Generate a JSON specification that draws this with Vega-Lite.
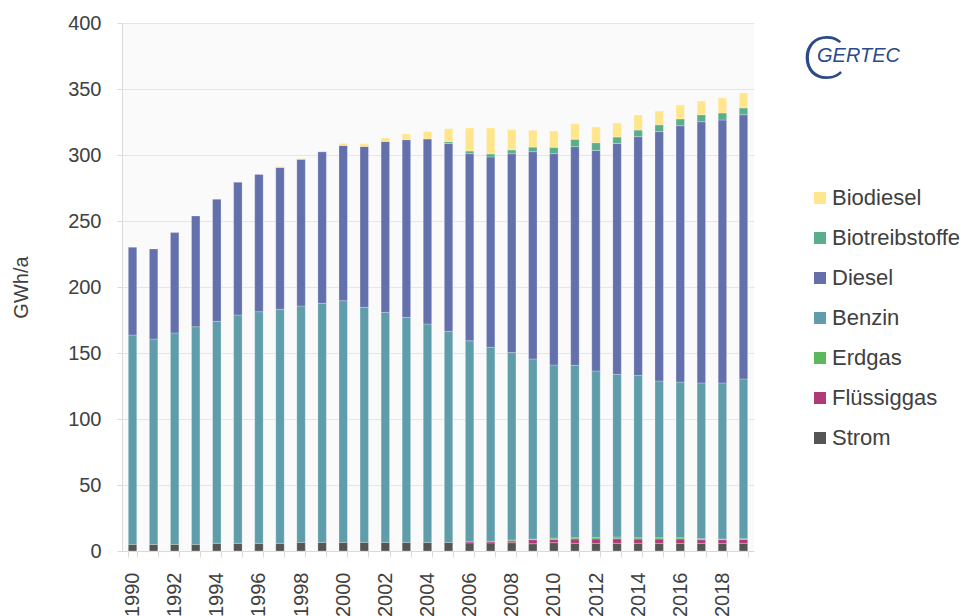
{
  "$schema": "https://vega.github.io/schema/vega-lite/v6.json",
  "description": "Endenergieverbrauch Verkehr nach Energietraegern 1990-2019",
  "autosize": "none",
  "width": 632,
  "height": 528,
  "padding": {"left": 122, "top": 23, "right": 215, "bottom": 65},
  "background": "white",
  "title": {
    "text": "C",
    "subtitle": "\u2800GERTEC",
    "anchor": "start",
    "frame": "group",
    "orient": "top",
    "offset": 0,
    "dx": 680,
    "dy": 79,
    "font": "Lato",
    "fontSize": 62,
    "fontWeight": 300,
    "color": "#2b4a8a",
    "subtitleFont": "Liberation Sans",
    "subtitleFontSize": 20,
    "subtitleFontStyle": "italic",
    "subtitleColor": "#2b4a8a",
    "subtitlePadding": -46
  },
  "data": {
    "values": [
      {"Jahr": "1990", "Strom": 5, "Flüssiggas": 0, "Erdgas": 0, "Benzin": 158.6, "Diesel": 66.5, "Biotreibstoffe": 0, "Biodiesel": 0},
      {"Jahr": "1991", "Strom": 5, "Flüssiggas": 0, "Erdgas": 0, "Benzin": 155.6, "Diesel": 68.2, "Biotreibstoffe": 0, "Biodiesel": 0},
      {"Jahr": "1992", "Strom": 5, "Flüssiggas": 0, "Erdgas": 0, "Benzin": 160.2, "Diesel": 76, "Biotreibstoffe": 0, "Biodiesel": 0},
      {"Jahr": "1993", "Strom": 5, "Flüssiggas": 0, "Erdgas": 0, "Benzin": 164.9, "Diesel": 83.9, "Biotreibstoffe": 0, "Biodiesel": 0},
      {"Jahr": "1994", "Strom": 5.8, "Flüssiggas": 0, "Erdgas": 0, "Benzin": 168.2, "Diesel": 92.4, "Biotreibstoffe": 0, "Biodiesel": 0},
      {"Jahr": "1995", "Strom": 5.8, "Flüssiggas": 0, "Erdgas": 0, "Benzin": 173, "Diesel": 100.5, "Biotreibstoffe": 0, "Biodiesel": 0},
      {"Jahr": "1996", "Strom": 5.8, "Flüssiggas": 0, "Erdgas": 0, "Benzin": 175.5, "Diesel": 104, "Biotreibstoffe": 0, "Biodiesel": 0},
      {"Jahr": "1997", "Strom": 5.8, "Flüssiggas": 0, "Erdgas": 0, "Benzin": 177.3, "Diesel": 107.5, "Biotreibstoffe": 0, "Biodiesel": 0.7},
      {"Jahr": "1998", "Strom": 6.5, "Flüssiggas": 0, "Erdgas": 0, "Benzin": 179.1, "Diesel": 111.1, "Biotreibstoffe": 0, "Biodiesel": 0.5},
      {"Jahr": "1999", "Strom": 6.5, "Flüssiggas": 0, "Erdgas": 0, "Benzin": 181.1, "Diesel": 114.9, "Biotreibstoffe": 0, "Biodiesel": 0.3},
      {"Jahr": "2000", "Strom": 6.5, "Flüssiggas": 0, "Erdgas": 0, "Benzin": 183.1, "Diesel": 117.6, "Biotreibstoffe": 0, "Biodiesel": 1.6},
      {"Jahr": "2001", "Strom": 6.5, "Flüssiggas": 0, "Erdgas": 0, "Benzin": 178.1, "Diesel": 121.9, "Biotreibstoffe": 0, "Biodiesel": 2.1},
      {"Jahr": "2002", "Strom": 6.5, "Flüssiggas": 0, "Erdgas": 0, "Benzin": 174.3, "Diesel": 129.4, "Biotreibstoffe": 0, "Biodiesel": 2.7},
      {"Jahr": "2003", "Strom": 6.5, "Flüssiggas": 0, "Erdgas": 0, "Benzin": 170.5, "Diesel": 134.6, "Biotreibstoffe": 0, "Biodiesel": 4.3},
      {"Jahr": "2004", "Strom": 6.5, "Flüssiggas": 0, "Erdgas": 0, "Benzin": 165.5, "Diesel": 140.1, "Biotreibstoffe": 0, "Biodiesel": 5.6},
      {"Jahr": "2005", "Strom": 6.5, "Flüssiggas": 0, "Erdgas": 0, "Benzin": 159.9, "Diesel": 142.4, "Biotreibstoffe": 1.3, "Biodiesel": 9.8},
      {"Jahr": "2006", "Strom": 6.1, "Flüssiggas": 1.0, "Erdgas": 0, "Benzin": 152.2, "Diesel": 141.7, "Biotreibstoffe": 2, "Biodiesel": 17.5},
      {"Jahr": "2007", "Strom": 6.1, "Flüssiggas": 1.2, "Erdgas": 0, "Benzin": 147, "Diesel": 144.2, "Biotreibstoffe": 2.3, "Biodiesel": 19.7},
      {"Jahr": "2008", "Strom": 6.3, "Flüssiggas": 1.3, "Erdgas": 0.7, "Benzin": 142, "Diesel": 150.7, "Biotreibstoffe": 2.8, "Biodiesel": 15.4},
      {"Jahr": "2009", "Strom": 5.5, "Flüssiggas": 3.1, "Erdgas": 0.5, "Benzin": 136.4, "Diesel": 157, "Biotreibstoffe": 3.5, "Biodiesel": 12.7},
      {"Jahr": "2010", "Strom": 6.3, "Flüssiggas": 2.5, "Erdgas": 1.0, "Benzin": 131.1, "Diesel": 160.1, "Biotreibstoffe": 4.8, "Biodiesel": 12.4},
      {"Jahr": "2011", "Strom": 5.8, "Flüssiggas": 3.3, "Erdgas": 0.9, "Benzin": 130.7, "Diesel": 165.6, "Biotreibstoffe": 5.6, "Biodiesel": 11.8},
      {"Jahr": "2012", "Strom": 5.8, "Flüssiggas": 3.3, "Erdgas": 1.2, "Benzin": 126.1, "Diesel": 167.1, "Biotreibstoffe": 5.8, "Biodiesel": 11.9},
      {"Jahr": "2013", "Strom": 5.8, "Flüssiggas": 3.5, "Erdgas": 1.3, "Benzin": 123.2, "Diesel": 175, "Biotreibstoffe": 4.8, "Biodiesel": 10.6},
      {"Jahr": "2014", "Strom": 5.8, "Flüssiggas": 3.3, "Erdgas": 0.9, "Benzin": 123, "Diesel": 180.9, "Biotreibstoffe": 5, "Biodiesel": 11.4},
      {"Jahr": "2015", "Strom": 5.8, "Flüssiggas": 3.3, "Erdgas": 0.9, "Benzin": 118.8, "Diesel": 188.9, "Biotreibstoffe": 5.2, "Biodiesel": 10.4},
      {"Jahr": "2016", "Strom": 5.8, "Flüssiggas": 3.3, "Erdgas": 0.9, "Benzin": 118, "Diesel": 194.2, "Biotreibstoffe": 5.1, "Biodiesel": 10.6},
      {"Jahr": "2017", "Strom": 5.8, "Flüssiggas": 2.8, "Erdgas": 0.7, "Benzin": 118, "Diesel": 197.9, "Biotreibstoffe": 5.3, "Biodiesel": 10.4},
      {"Jahr": "2018", "Strom": 5.8, "Flüssiggas": 2.8, "Erdgas": 0.5, "Benzin": 118.2, "Diesel": 199.2, "Biotreibstoffe": 5.3, "Biodiesel": 11.4},
      {"Jahr": "2019", "Strom": 5.8, "Flüssiggas": 3.0, "Erdgas": 0.5, "Benzin": 121, "Diesel": 200.2, "Biotreibstoffe": 5.1, "Biodiesel": 11.4}
    ]
  },
  "transform": [
    {"fold": ["Strom", "Flüssiggas", "Erdgas", "Benzin", "Diesel", "Biotreibstoffe", "Biodiesel"], "as": ["Traeger", "GWh"]},
    {"filter": "datum.GWh > 0"},
    {"calculate": "indexof(['Strom', 'Flüssiggas', 'Erdgas', 'Benzin', 'Diesel', 'Biotreibstoffe', 'Biodiesel'], datum.Traeger)", "as": "stapel"}
  ],
  "mark": {"type": "bar", "stroke": "#ffffff", "strokeWidth": 0.4, "strokeOpacity": 0.6},
  "encoding": {
    "x": {
      "field": "Jahr",
      "type": "ordinal",
      "scale": {"paddingInner": 0.6, "paddingOuter": 0.3},
      "axis": {
        "title": null,
        "labelAngle": -90,
        "labelExpr": "toNumber(datum.value) % 2 == 0 ? datum.label : ''",
        "labelOverlap": false,
        "tickBand": "extent",
        "tickSize": 6,
        "labelPadding": 15,
        "domainColor": "#d9d9d9",
        "tickColor": "#d9d9d9"
      }
    },
    "y": {
      "field": "GWh",
      "type": "quantitative",
      "stack": "zero",
      "scale": {"domain": [0, 400], "nice": false},
      "axis": {
        "title": "GWh/a",
        "titleX": -101,
        "titleBaseline": "middle",
        "values": [0, 50, 100, 150, 200, 250, 300, 350, 400],
        "tickSize": 5,
        "labelPadding": 16,
        "domainColor": "#d9d9d9",
        "tickColor": "#d9d9d9",
        "gridColor": "#e6e6e6"
      }
    },
    "color": {
      "field": "Traeger",
      "type": "nominal",
      "scale": {
        "domain": ["Biodiesel", "Biotreibstoffe", "Diesel", "Benzin", "Erdgas", "Flüssiggas", "Strom"],
        "range": ["#ffe68c", "#5bae8c", "#6370ab", "#5f9daa", "#5cb85c", "#b03a78", "#555555"]
      },
      "legend": {
        "title": null,
        "orient": "none",
        "legendX": 687,
        "legendY": 164,
        "symbolType": "square",
        "symbolSize": 144,
        "symbolStrokeWidth": 0,
        "symbolOpacity": 1,
        "labelFontSize": 22,
        "labelColor": "#404040",
        "labelOffset": 1,
        "rowPadding": 18
      }
    },
    "order": {"field": "stapel", "type": "quantitative"}
  },
  "config": {
    "font": "Liberation Sans",
    "view": {"stroke": null, "fill": "#fafafa"},
    "axis": {
      "labelFont": "Liberation Sans",
      "labelFontSize": 20,
      "labelColor": "#404040",
      "titleFont": "Liberation Sans",
      "titleFontSize": 20,
      "titleFontWeight": "normal",
      "titleColor": "#404040"
    },
    "legend": {"labelFont": "Liberation Sans"}
  }
}
